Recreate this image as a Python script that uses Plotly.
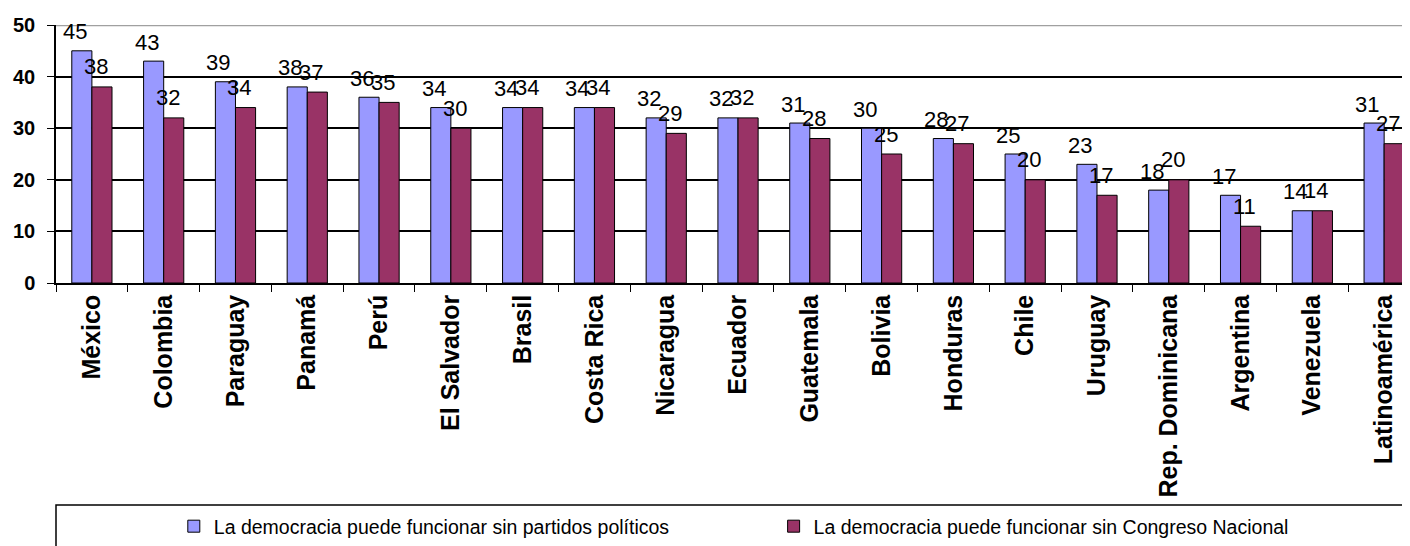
import plotly.graph_objects as go

# Datos
paises = ["México", "Colombia", "Paraguay", "Panamá", "Perú", "El Salvador", "Brasil",
          "Costa Rica", "Nicaragua", "Ecuador", "Guatemala", "Bolivia", "Honduras",
          "Chile", "Uruguay", "Rep. Dominicana", "Argentina", "Venezuela", "Latinoamérica"]
sin_partidos = [45, 43, 39, 38, 36, 34, 34, 34, 32, 32, 31, 30, 28, 25, 23, 18, 17, 14, 31]
sin_congreso = [38, 32, 34, 37, 35, 30, 34, 34, 29, 32, 28, 25, 27, 20, 17, 20, 11, 14, 27]
y_ticks = [0, 10, 20, 30, 40, 50]

nombre_1 = "La democracia puede funcionar sin partidos políticos"
nombre_2 = "La democracia puede funcionar sin Congreso Nacional"

fuente = "Liberation Sans, Arial, sans-serif"

fig = go.Figure()
fig.add_trace(go.Bar(x=paises, y=sin_partidos, name=nombre_1, legend="legend",
                     marker=dict(color="#9999FF", line=dict(color="black", width=1))))
fig.add_trace(go.Bar(x=paises, y=sin_congreso, name=nombre_2, legend="legend2",
                     marker=dict(color="#993366", line=dict(color="black", width=1))))

# etiquetas de valores (algo desplazadas como en el original)
anots = []
for p, v in zip(paises, sin_partidos):
    anots.append(dict(x=p, y=v, text=str(v), showarrow=False, xshift=-17, yshift=19,
                      yanchor="middle", font=dict(family=fuente, size=22, color="black")))
for p, v in zip(paises, sin_congreso):
    anots.append(dict(x=p, y=v, text=str(v), showarrow=False, xshift=4, yshift=20,
                      yanchor="middle", font=dict(family=fuente, size=22, color="black")))

leyenda = dict(orientation="h", y=-0.946, xanchor="left", yanchor="middle",
               itemwidth=30, font=dict(family=fuente, size=19.5, color="black"),
               bgcolor="rgba(0,0,0,0)", borderwidth=0)

# la página tiene un margen de 8 px, por eso ancho/alto y márgenes reducidos
fig.update_layout(
    width=1402, height=538,
    margin=dict(l=48, r=0, t=17, b=263),
    paper_bgcolor="white", plot_bgcolor="white",
    barmode="group", bargap=0.44, bargroupgap=0,
    annotations=anots,
    showlegend=True,
    legend=dict(leyenda, x=0.087),
    legend2=dict(leyenda, x=0.530),
    shapes=[
        dict(type="line", xref="paper", yref="y", x0=0, x1=1, y0=50, y1=50,
             line=dict(color="#a0a0a0", width=2.5), layer="above"),
        dict(type="rect", xref="paper", yref="paper", x0=0, x1=1.02, y0=-0.86, y1=-1.1,
             line=dict(color="black", width=1.5), layer="above"),
    ],
)

fig.update_xaxes(
    range=[-0.5, 18.36], showline=True, linecolor="black", linewidth=1.5,
    ticks="outside", tickson="boundaries", ticklen=7, tickcolor="black",
    tickangle=-90, showgrid=False, automargin=False,
    tickfont=dict(family=fuente, size=25, color="black", weight="bold"),
)
fig.update_yaxes(
    range=[0, 50], tickvals=y_ticks, showline=True, linecolor="black", linewidth=1.5,
    ticks="outside", ticklen=7, tickcolor="black", automargin=False,
    ticklabelstandoff=8,
    showgrid=True, gridcolor="black", gridwidth=1.5, zeroline=False,
    tickfont=dict(family=fuente, size=20, color="black", weight="bold"),
)

fig.write_html("out.html")
